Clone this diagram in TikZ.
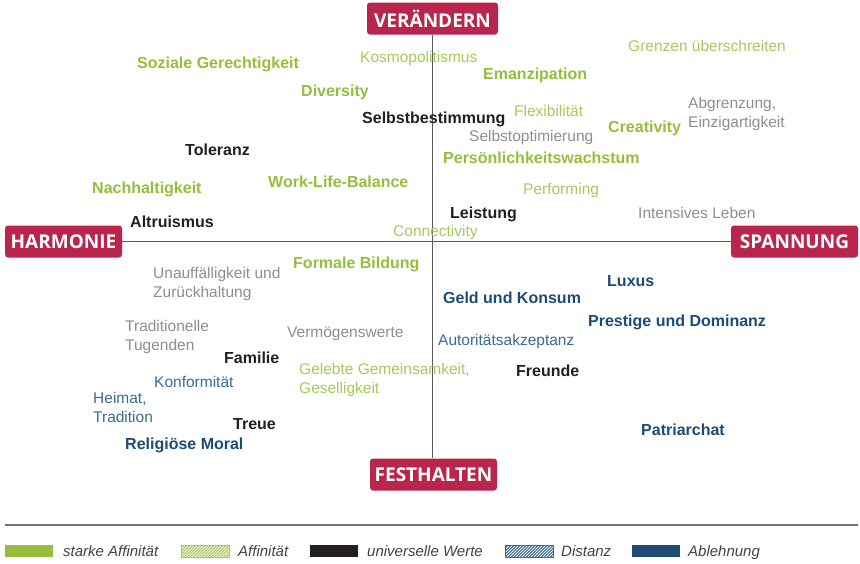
\documentclass[tikz,border=0pt]{standalone}
\usepackage{fontspec}
\setmainfont{Liberation Sans}
\newfontfamily\polefont{Open Sans}

\definecolor{polered}{HTML}{B9254D}
\definecolor{stronggreen}{HTML}{96BE3C}
\definecolor{affingreen}{HTML}{A6C95C}
\definecolor{univblack}{HTML}{231F20}
\definecolor{neutralgray}{HTML}{8E8E8E}
\definecolor{distblue}{HTML}{3A6C94}
\definecolor{rejblue}{HTML}{1D4B75}

\begin{document}
\begin{tikzpicture}[x=1pt,y=-1pt,
  every node/.style={inner sep=0pt,anchor=base west,align=left},
  strong/.style={font=\fontsize{16}{18}\selectfont\bfseries,text=stronggreen},
  affin/.style={font=\fontsize{15.5}{18.5}\selectfont,text=affingreen},
  univ/.style={font=\fontsize{16}{18}\selectfont\bfseries,text=univblack},
  neutral/.style={font=\fontsize{15.5}{18.5}\selectfont,text=neutralgray},
  dist/.style={font=\fontsize{15.5}{18.5}\selectfont,text=distblue},
  rej/.style={font=\fontsize{16}{18}\selectfont\bfseries,text=rejblue},
  pole/.style={anchor=center,fill=polered,text=white,rounded corners=3pt,
    font=\polefont\fontsize{19}{19}\selectfont\bfseries,minimum height=32pt},
  axisline/.style={draw=black!65,line width=1.1pt},
  swatch/.style={anchor=north west,minimum width=48pt,minimum height=12pt},
  legendtext/.style={font=\fontsize{15}{16}\selectfont\itshape,text=univblack!85},
]
\useasboundingbox (0,0) rectangle (860,563);

% poles
\node[pole,minimum width=131pt] (up) at (432.5,18.5) {VERÄNDERN};
\node[pole,minimum width=127pt] (down) at (433.5,474.5) {FESTHALTEN};
\node[pole,minimum width=117pt] (left) at (63.5,241.5) {HARMONIE};
\node[pole,minimum width=127pt] (right) at (794.5,241.5) {SPANNUNG};

% axes
\draw[axisline] (up.south) -- (up.south |- down.north);
\draw[axisline] (left.east) -- (right.west);

% upper half (two-line texts: base = last line)
\node[affin] (grenz) at (628,51) {Grenzen überschreiten};
\node[strong] (sozial) at (137,68) {Soziale Gerechtigkeit};
\node[affin] (kosmo) at (360,62) {Kosmopolitismus};
\node[strong] (emanz) at (483,79) {Emanzipation};
\node[strong] (divers) at (301,96) {Diversity};
\node[neutral] (abgr) at (688,127) {Abgrenzung,\\Einzigartigkeit};
\node[affin] (flex) at (514,116) {Flexibilität};
\node[univ] (selbst) at (362,123) {Selbstbestimmung};
\node[strong] (creat) at (608,132) {Creativity};
\node[neutral] (opt) at (469,141) {Selbstoptimierung};
\node[univ] (toler) at (185,155) {Toleranz};
\node[strong] (pers) at (443,163) {Persönlichkeitswachstum};
\node[strong] (wlb) at (268,187) {Work-Life-Balance};
\node[strong] (nachh) at (92,193) {Nachhaltigkeit};
\node[affin] (perf) at (523,194) {Performing};
\node[univ] (leist) at (450,218) {Leistung};
\node[neutral] (intens) at (638,218) {Intensives Leben};
\node[univ] (altru) at (130,227) {Altruismus};
\node[affin] (conn) at (393,236) {Connectivity};

% lower half
\node[strong] (bild) at (293,268) {Formale Bildung};
\node[neutral] (unauf) at (153,297) {Unauffälligkeit und\\Zurückhaltung};
\node[rej] (luxus) at (607,286) {Luxus};
\node[rej] (geld) at (443,303) {Geld und Konsum};
\node[rej] (prest) at (588,326) {Prestige und Dominanz};
\node[neutral] (trad) at (125,350) {Traditionelle\\Tugenden};
\node[neutral] (verm) at (287,337) {Vermögenswerte};
\node[dist] (autor) at (438,345) {Autoritätsakzeptanz};
\node[univ] (fam) at (224,363) {Familie};
\node[affin] (gemein) at (299,393) {Gelebte Gemeinsamkeit,\\Geselligkeit};
\node[univ] (freund) at (516,376) {Freunde};
\node[dist] (konf) at (154,387) {Konformität};
\node[dist] (heimat) at (93,422) {Heimat,\\Tradition};
\node[univ] (treue) at (233,429) {Treue};
\node[rej] (patri) at (641,435) {Patriarchat};
\node[rej] (relig) at (125,449) {Religiöse Moral};

% legend
\draw[draw=black!55,line width=1.5pt] (5,525) -- (858,525);
\node[swatch,fill=stronggreen] (sw1) at (5,545) {};
\node[legendtext] (lg1) at (63,556) {starke Affinität};
\node[swatch] (sw2) at (181,545) {};
\node[legendtext] (lg2) at (238,556) {Affinität};
\node[swatch,fill=univblack] (sw3) at (310,545) {};
\node[legendtext] (lg3) at (367,556) {universelle Werte};
\node[swatch] (sw4) at (505,545) {};
\node[legendtext] (lg4) at (561,556) {Distanz};
\node[swatch,fill=rejblue] (sw5) at (632,545) {};
\node[legendtext] (lg5) at (688,556) {Ablehnung};

% hatched swatches
\begin{scope}
\clip (sw2.south west) rectangle (sw2.north east);
\foreach \i in {-12,-9,...,48}
  \draw[affingreen,line width=1.1pt] ([xshift=\i pt]sw2.south west) -- ++(12,-12);
\end{scope}
\draw[affingreen,line width=1pt] (sw2.south west) rectangle (sw2.north east);

\begin{scope}
\clip (sw4.south west) rectangle (sw4.north east);
\foreach \i in {-12,-9,...,48}
  \draw[distblue,line width=1.1pt] ([xshift=\i pt]sw4.south west) -- ++(12,-12);
\end{scope}
\draw[distblue,line width=1pt] (sw4.south west) rectangle (sw4.north east);

\end{tikzpicture}
\end{document}
